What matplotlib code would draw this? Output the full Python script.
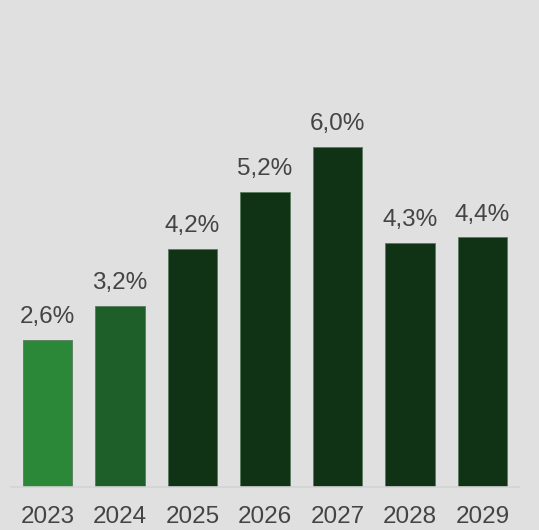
import matplotlib.pyplot as plt

years = ["2023", "2024", "2025", "2026", "2027", "2028", "2029"]
growth = [2.6, 3.2, 4.2, 5.2, 6.0, 4.3, 4.4]
bar_colors = ["#2a8838", "#1e5e29", "#103316", "#103316", "#103316", "#103316", "#103316"]

plt.rcParams['font.family'] = ['Liberation Sans', 'DejaVu Sans']

fig = plt.figure(figsize=(5.39, 5.30), dpi=100, facecolor="#e0e0e0")
ax = fig.add_axes([0.0209, 0.0811, 0.9416, 0.856])
ax.set_facecolor("#e0e0e0")

x = range(len(years))
bars = ax.bar(x, growth, width=0.68, color=bar_colors, edgecolor="#5a7a5e", linewidth=0.6)

for xi, v in zip(x, growth):
    ax.annotate(f"{v:.1f}%".replace(".", ","), (xi, v), xytext=(0, 8.5), textcoords="offset points",
                ha="center", va="bottom", fontsize=17.5, color="#444444")

ax.set_xlim(-0.5, 6.5)
ax.set_ylim(0, 8)
ax.set_xticks(list(x))
ax.set_xticklabels(years, fontsize=17.5, color="#444444")
ax.tick_params(axis="x", length=0, pad=14)
ax.set_yticks([])
for side in ["top", "left", "right"]:
    ax.spines[side].set_visible(False)
ax.spines["bottom"].set_color("#d3d3d3")
ax.spines["bottom"].set_linewidth(1.2)

fig.savefig("out.png", dpi=100, facecolor=fig.get_facecolor())
